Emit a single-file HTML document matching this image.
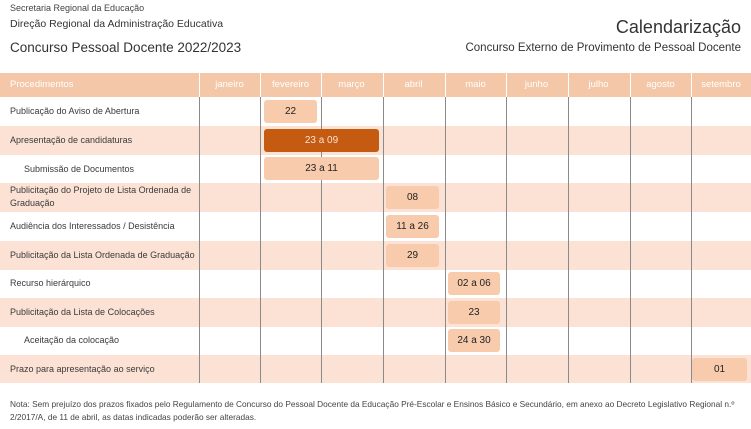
<!DOCTYPE html><html><head><meta charset="utf-8"><style>
body{margin:0;width:751px;height:429px;background:#fff;position:relative;overflow:hidden;font-family:"Liberation Sans",sans-serif;color:#333}
div{position:absolute;box-sizing:border-box}
.t{white-space:nowrap}
.row{left:0;width:751px;height:29px}
.pk{background:#fbe2d5}
.lb{font-size:9px;left:10px;line-height:29px;white-space:nowrap;color:#3a3a3a}
.vl{top:97px;height:286px;width:1px;background:#8a8a8a}
.hd{top:73px;height:24px;background:#f4c7a8;left:0;width:751px}
.hm{top:73px;height:24px;color:#fff;font-size:9.5px;line-height:24px;text-align:center;width:61px}
.hs{top:73px;height:24px;width:1px;background:#fff}
.b{background:#f8cbad;border-radius:3px;height:23px;font-size:10px;line-height:23px;text-align:center;color:#222}
</style></head><body>
<div class="t" style="left:10px;top:3px;font-size:9px;color:#444">Secretaria Regional da Educação</div>
<div class="t" style="left:10px;top:18px;font-size:10.5px;color:#333">Direção Regional da Administração Educativa</div>
<div class="t" style="left:10px;top:40px;font-size:13.5px;color:#333">Concurso Pessoal Docente 2022/2023</div>
<div class="t" style="right:10px;top:17px;font-size:18px;color:#333">Calendarização</div>
<div class="t" style="right:10px;top:42px;font-size:11.5px;color:#333">Concurso Externo de Provimento de Pessoal Docente</div>

<div class="hd"></div>
<div class="t" style="left:10px;top:73px;line-height:24px;font-size:9.5px;color:#fff">Procedimentos</div>
<div class="hm" style="left:199px">janeiro</div>
<div class="hm" style="left:260px">fevereiro</div>
<div class="hm" style="left:321px">março</div>
<div class="hm" style="left:383px">abril</div>
<div class="hm" style="left:445px">maio</div>
<div class="hm" style="left:506px">junho</div>
<div class="hm" style="left:568px">julho</div>
<div class="hm" style="left:630px">agosto</div>
<div class="hm" style="left:691px;width:60px">setembro</div>
<div class="hs" style="left:199px"></div><div class="hs" style="left:260px"></div><div class="hs" style="left:321px"></div><div class="hs" style="left:383px"></div><div class="hs" style="left:445px"></div><div class="hs" style="left:506px"></div><div class="hs" style="left:568px"></div><div class="hs" style="left:630px"></div><div class="hs" style="left:691px"></div>

<div class="row pk" style="top:126px"></div>
<div class="row pk" style="top:183px"></div>
<div class="row pk" style="top:241px"></div>
<div class="row pk" style="top:298px"></div>
<div class="row pk" style="top:355px;height:28px"></div>

<div class="vl" style="left:199px"></div><div class="vl" style="left:260px"></div><div class="vl" style="left:321px"></div><div class="vl" style="left:383px"></div><div class="vl" style="left:445px"></div><div class="vl" style="left:506px"></div><div class="vl" style="left:568px"></div><div class="vl" style="left:630px"></div><div class="vl" style="left:691px"></div>

<div class="lb" style="top:97px">Publicação do Aviso de Abertura</div>
<div class="lb" style="top:126px">Apresentação de candidaturas</div>
<div class="lb" style="top:155px;left:24px">Submissão de Documentos</div>
<div class="lb" style="top:183px;line-height:13px;padding-top:1px">Publicitação do Projeto de Lista Ordenada de<br>Graduação</div>
<div class="lb" style="top:212px">Audiência dos Interessados / Desistência</div>
<div class="lb" style="top:241px">Publicitação da Lista Ordenada de Graduação</div>
<div class="lb" style="top:269px">Recurso hierárquico</div>
<div class="lb" style="top:298px">Publicitação da Lista de Colocações</div>
<div class="lb" style="top:326px;left:24px">Aceitação da colocação</div>
<div class="lb" style="top:355px">Prazo para apresentação ao serviço</div>

<div class="b" style="left:264px;top:100px;width:53px">22</div>
<div class="b" style="left:264px;top:129px;width:115px;background:#c55a11;color:#fbe2d5">23 a 09</div>
<div class="b" style="left:264px;top:157px;width:115px">23 a 11</div>
<div class="b" style="left:386px;top:186px;width:53px">08</div>
<div class="b" style="left:386px;top:215px;width:53px">11 a 26</div>
<div class="b" style="left:386px;top:244px;width:53px">29</div>
<div class="b" style="left:448px;top:272px;width:52px">02 a 06</div>
<div class="b" style="left:448px;top:301px;width:52px">23</div>
<div class="b" style="left:448px;top:329px;width:52px">24 a 30</div>
<div class="b" style="left:692px;top:358px;width:55px">01</div>

<div style="left:10px;top:398px;width:740px;font-size:8.3px;line-height:13px;color:#444">Nota: Sem prejuízo dos prazos fixados pelo Regulamento de Concurso do Pessoal Docente da Educação Pré-Escolar e Ensinos Básico e Secundário, em anexo ao Decreto Legislativo Regional n.º<br>2/2017/A, de 11 de abril, as datas indicadas poderão ser alteradas.</div>
</body></html>
